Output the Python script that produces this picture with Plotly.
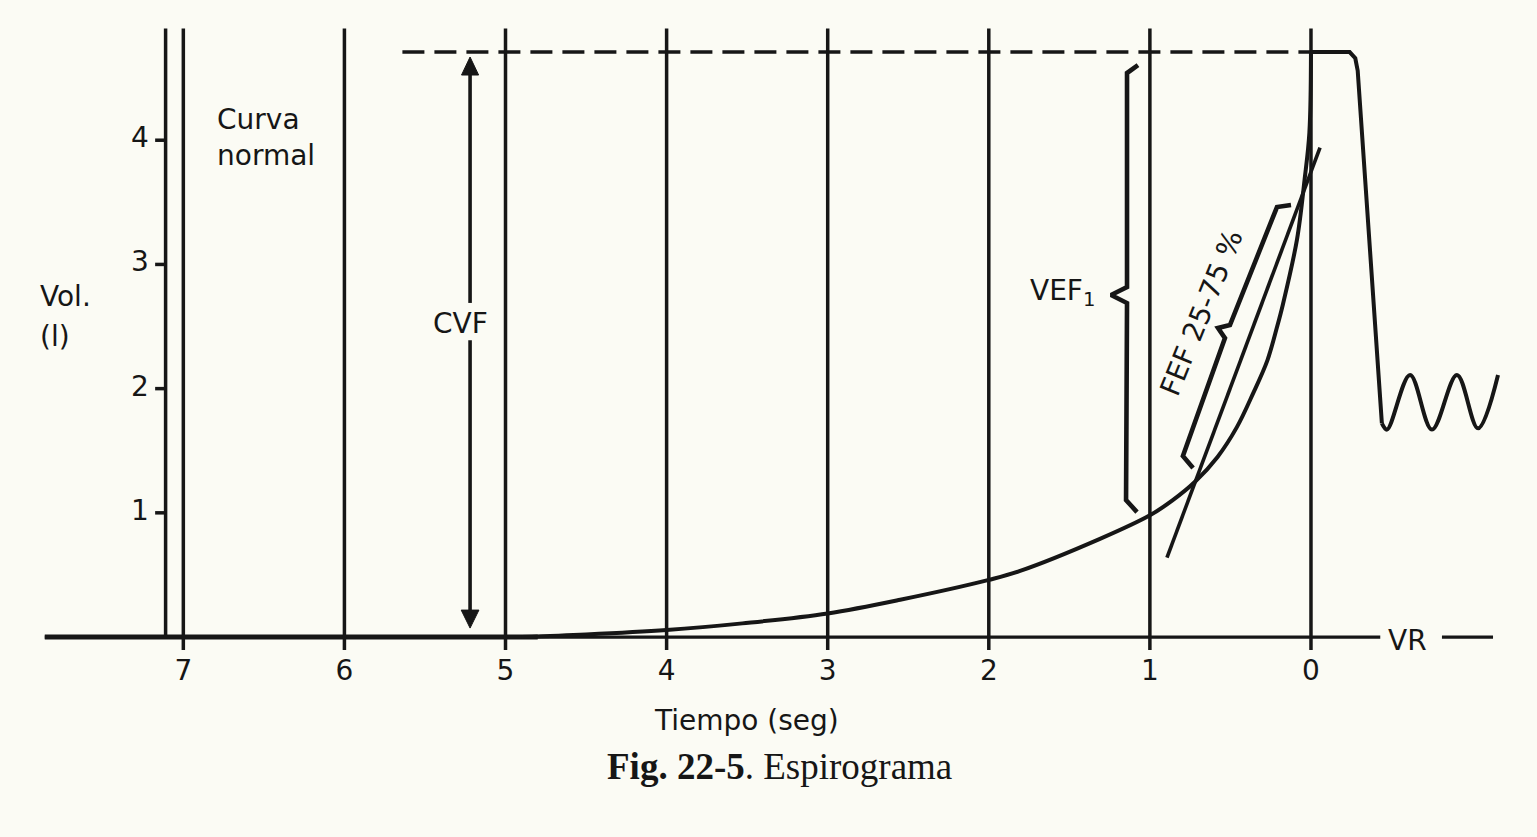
import plotly.graph_objects as go

# ---------------- data ----------------
x_ticks = [7, 6, 5, 4, 3, 2, 1, 0]
x_tick_labels = ["7", "6", "5", "4", "3", "2", "1", "0"]
y_ticks = [1, 2, 3, 4]
y_tick_labels = ["1", "2", "3", "4"]

# forced expiration curve (time axis runs right-to-left, volume in litres)
fev_time = [4.9, 4.5, 4.0, 3.53, 3.0, 2.55, 2.0, 1.81, 1.31, 1.0, 0.86, 0.72,
            0.58, 0.46, 0.36, 0.27, 0.21, 0.174, 0.087, 0.04, 0.01, 0.0]
fev_vol = [0.0, 0.02, 0.056, 0.11, 0.19, 0.30, 0.46, 0.53, 0.79, 0.98, 1.10, 1.25,
           1.45, 1.69, 1.96, 2.23, 2.50, 2.68, 3.20, 3.68, 4.06, 4.71]

# plateau at full inspiration and drop to tidal breathing
plateau_time = [0.0, -0.24, -0.275, -0.29, -0.44]
plateau_vol = [4.71, 4.71, 4.66, 4.56, 1.72]

# tidal breathing waves
tidal_time = [-0.44, -0.472, -0.615, -0.751, -0.906, -1.037, -1.161]
tidal_vol = [1.72, 1.67, 2.11, 1.67, 2.11, 1.68, 2.11]

# FEF 25-75 % tangent line
fef_time = [0.894, -0.056]
fef_vol = [0.64, 3.94]

fvc_level = 4.71          # CVF
dashed_start = 5.64
vr_line_end = -0.43

# ---------------- style ----------------
INK = "#161616"
BG = "#fbfbf4"
SANS = "DejaVu Sans"
SERIF = "Liberation Serif"
FS = 28

fig = go.Figure()

# baseline (VR)
fig.add_trace(go.Scatter(x=[7.86, vr_line_end], y=[0, 0], mode="lines",
                         line=dict(color=INK, width=3.3), hoverinfo="skip"))
fig.add_trace(go.Scatter(x=[7.86, 4.8], y=[0, 0], mode="lines",
                         line=dict(color=INK, width=5), hoverinfo="skip"))
fig.add_trace(go.Scatter(x=[-0.813, -1.13], y=[0, 0], mode="lines",
                         line=dict(color=INK, width=3.3), hoverinfo="skip"))

# vertical time lines
gx, gy = [], []
for t in x_ticks:
    gx += [t, t, None]
    gy += [-0.105, 4.90, None]
fig.add_trace(go.Scatter(x=gx, y=gy, mode="lines",
                         line=dict(color=INK, width=3.5), hoverinfo="skip"))

# volume axis with ticks
ax_x = 7.11
vx, vy = [ax_x, ax_x, None], [0, 4.90, None]
for v in y_ticks:
    vx += [ax_x, ax_x + 0.065, None]
    vy += [v, v, None]
fig.add_trace(go.Scatter(x=vx, y=vy, mode="lines",
                         line=dict(color=INK, width=3.5), hoverinfo="skip"))

# tick labels
fig.add_trace(go.Scatter(x=[7.27] * len(y_ticks), y=y_ticks, text=y_tick_labels,
                         mode="text", textfont=dict(family=SANS, size=FS, color=INK),
                         textposition="middle center", hoverinfo="skip"))
fig.add_trace(go.Scatter(x=x_ticks, y=[-0.29] * len(x_ticks), text=x_tick_labels,
                         mode="text", textfont=dict(family=SANS, size=FS, color=INK),
                         textposition="middle center", hoverinfo="skip"))

# dashed FVC level line
fig.add_trace(go.Scatter(x=[dashed_start, 0], y=[fvc_level, fvc_level], mode="lines",
                         line=dict(color=INK, width=3.4, dash="22px,10px"),
                         hoverinfo="skip"))

# forced expiration curve
fig.add_trace(go.Scatter(x=fev_time, y=fev_vol, mode="lines",
                         line=dict(color=INK, width=4, shape="spline", smoothing=1.0),
                         hoverinfo="skip"))
# plateau + drop
fig.add_trace(go.Scatter(x=plateau_time, y=plateau_vol, mode="lines",
                         line=dict(color=INK, width=4), hoverinfo="skip"))
# tidal waves
fig.add_trace(go.Scatter(x=tidal_time, y=tidal_vol, mode="lines",
                         line=dict(color=INK, width=4, shape="spline", smoothing=1.0),
                         hoverinfo="skip"))
# FEF tangent line
fig.add_trace(go.Scatter(x=fef_time, y=fef_vol, mode="lines",
                         line=dict(color=INK, width=3.6), hoverinfo="skip"))

# CVF double arrow
cx = 5.22
fig.add_trace(go.Scatter(x=[cx, cx, None, cx, cx], y=[4.55, 2.69, None, 2.39, 0.20],
                         mode="lines", line=dict(color=INK, width=3.6), hoverinfo="skip"))
fig.add_trace(go.Scatter(x=[cx - 0.053, cx + 0.053, cx, cx - 0.053],
                         y=[4.525, 4.525, 4.67, 4.525], mode="lines", fill="toself",
                         fillcolor=INK, line=dict(color=INK, width=1), hoverinfo="skip"))
fig.add_trace(go.Scatter(x=[cx - 0.055, cx + 0.055, cx, cx - 0.055],
                         y=[0.217, 0.217, 0.072, 0.217], mode="lines", fill="toself",
                         fillcolor=INK, line=dict(color=INK, width=1), hoverinfo="skip"))

# VEF1 brace
fig.add_trace(go.Scatter(x=[1.074, 1.142, 1.142, 1.241, 1.142, 1.148, 1.080],
                         y=[4.605, 4.541, 2.818, 2.754, 2.689, 1.103, 1.006],
                         mode="lines", line=dict(color=INK, width=4.6), hoverinfo="skip"))
# FEF 25-75 brace
fig.add_trace(go.Scatter(x=[0.732, 0.795, 0.534, 0.577, 0.503, 0.211, 0.124],
                         y=[1.361, 1.457, 2.407, 2.488, 2.512, 3.462, 3.478],
                         mode="lines", line=dict(color=INK, width=4.6), hoverinfo="skip"))

ann = []
def txt(x, y, s, size=FS, family=SANS, xanchor="center", angle=0, align="center"):
    ann.append(dict(x=x, y=y, xref="x", yref="y", text=s, showarrow=False,
                    font=dict(family=family, size=size, color=INK),
                    xanchor=xanchor, yanchor="middle", textangle=angle, align=align))

txt(6.803, 4.026, "Curva<br>normal", xanchor="left", align="left")
txt(7.90, 2.74, "Vol.", xanchor="left")
txt(7.90, 2.42, "(l)", xanchor="left")
txt(5.282, 2.528, "CVF")
txt(1.328, 2.77, "VEF<sub>1</sub>", xanchor="right")
txt(0.677, 2.61, "FEF 25-75 %", angle=-68)
txt(-0.602, -0.03, "VR")
txt(3.507, -0.668, "Tiempo (seg)")
txt(3.302, -1.04, "<b>Fig. 22-5</b>. Espirograma", size=37, family=SERIF)

fig.update_layout(
    width=1537, height=837,
    margin=dict(l=0, r=0, t=0, b=0),
    paper_bgcolor=BG, plot_bgcolor=BG,
    showlegend=False,
    xaxis=dict(range=[8.138, -1.403], visible=False, fixedrange=True),
    yaxis=dict(range=[-1.610, 5.129], visible=False, fixedrange=True),
    annotations=ann,
)

fig.write_html("out.html", config={"displayModeBar": False},
               post_script="document.body.style.margin='0';document.body.style.overflow='hidden';")
